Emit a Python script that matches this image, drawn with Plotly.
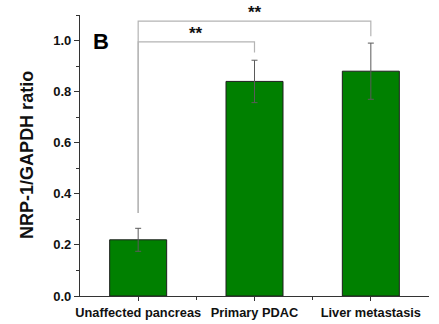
import plotly.graph_objects as go

categories = ["Unaffected pancreas", "Primary PDAC", "Liver metastasis"]
ratio_values = [0.22, 0.84, 0.88]
ratio_errors = [0.045, 0.083, 0.11]
y_tick_vals = [0.0, 0.2, 0.4, 0.6, 0.8, 1.0]
y_tick_text = ["0.0", "0.2", "0.4", "0.6", "0.8", "1.0"]

# significance brackets: (from index, to index, bracket height, left leg bottom, right leg bottom, label)
comparisons = [(0, 1), (0, 2)]
bracket_heights = [0.995, 1.076]
left_leg_bottoms = [0.325, 0.325]
right_leg_bottoms = [0.953, 1.017]
sig_labels = ["**", "**"]

x_pos = list(range(len(categories)))
FONT = "Liberation Sans, Arial, sans-serif"

fig = go.Figure()
fig.add_trace(go.Bar(
    x=x_pos, y=ratio_values, width=0.49,
    marker=dict(color="#008000", line=dict(color="#1e1e1e", width=1)),
    error_y=dict(type="data", array=ratio_errors, visible=True,
                 color="#5a5a5a", thickness=1, width=3),
    showlegend=False,
))

shapes = []
annotations = []
for (a, b), h, lb, rb, lab in zip(comparisons, bracket_heights, left_leg_bottoms, right_leg_bottoms, sig_labels):
    shapes.append(dict(type="path", xref="x", yref="y",
                       path=f"M {a} {lb} L {a} {h} L {b} {h} L {b} {rb}",
                       line=dict(color="#b4b4b4", width=1.2)))
    annotations.append(dict(x=(a + b) / 2, y=h, xref="x", yref="y", text=f"<b>{lab}</b>",
                            showarrow=False, yanchor="bottom", yshift=-3,
                            font=dict(family=FONT, size=17, color="#111")))

annotations.append(dict(x=-0.316, y=0.996, xref="x", yref="y", text="<b>B</b>",
                        showarrow=False, font=dict(family=FONT, size=22, color="#000")))
annotations.append(dict(x=-0.152, y=0.502, xref="paper", yref="paper", text="<b>NRP-1/GAPDH ratio</b>",
                        textangle=-90, showarrow=False, xanchor="center", yanchor="middle",
                        font=dict(family=FONT, size=18, color="#111")))

fig.update_layout(
    width=439, height=324,
    margin=dict(l=80, r=10, t=15, b=28, autoexpand=False),
    paper_bgcolor="white", plot_bgcolor="white",
    shapes=shapes, annotations=annotations,
    xaxis=dict(range=[-0.5, 2.5], tickvals=x_pos, ticktext=[f"<b>{c}</b>" for c in categories],
               ticks="outside", ticklen=4, tickcolor="#333", tickwidth=1, automargin=False,
               showline=True, linecolor="#333", linewidth=1.3, showgrid=False, zeroline=False,
               tickfont=dict(family=FONT, size=12.8, color="#111"),
               minor=dict(tickmode="array", tickvals=[0.5, 1.5], ticks="outside", ticklen=3,
                          tickcolor="#333")),
    yaxis=dict(range=[0, 1.1], tickvals=y_tick_vals, ticktext=[f"<b>{t}</b>" for t in y_tick_text],
               ticks="outside", ticklen=5, tickcolor="#333", tickwidth=1, automargin=False,
               showline=True, linecolor="#333", linewidth=1.3, showgrid=False, zeroline=False,
               tickfont=dict(family=FONT, size=13, color="#111"),
               minor=dict(dtick=0.1, ticks="outside", ticklen=3, tickcolor="#333")),
)

fig.write_html("out.html", config={"displayModeBar": False},
               post_script="document.body.style.margin='0';document.body.style.padding='0';")
